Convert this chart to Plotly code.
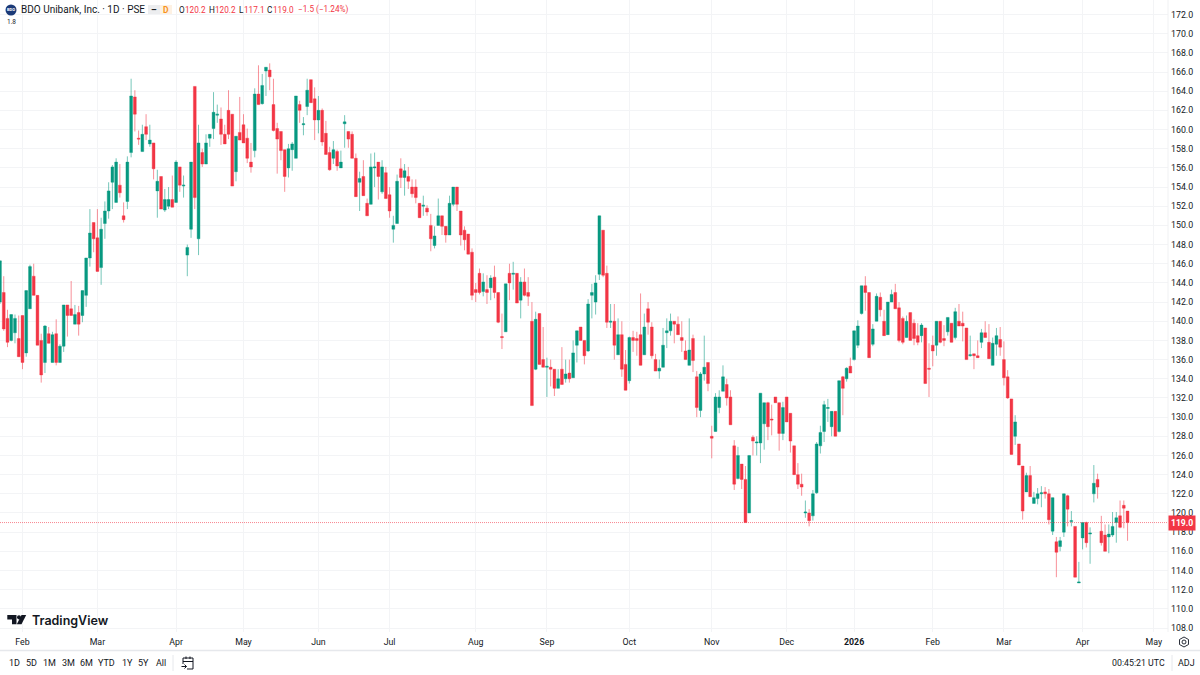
import re

import plotly.graph_objects as go

# daily bars, 10 per row
opens = [
    142.0,143.0,140.3,138.0,138.8,138.2,140.6,136.7,141.3,144.7,
    142.7,138.0,135.7,138.7,135.7,138.7,135.7,137.4,141.7,141.3,
    139.7,140.9,140.6,142.7,146.6,150.3,148.7,145.6,150.2,151.5,
    154.5,152.4,154.2,151.0,152.5,157.6,163.4,159.1,157.7,160.3,
    158.5,158.6,153.6,155.1,151.6,152.0,152.7,152.4,156.1,154.1,
    146.9,149.6,164.5,148.6,157.6,156.4,159.1,160.1,161.5,161.1,
    159.5,162.0,161.6,155.6,159.7,160.5,159.1,156.6,157.8,163.7,
    162.7,166.1,166.2,162.6,160.1,159.8,157.9,156.0,157.9,157.0,
    162.6,160.5,162.4,165.2,163.2,161.0,162.0,159.6,157.6,157.0,
    157.7,156.0,160.6,159.8,159.5,157.0,154.5,155.1,152.3,152.2,
    156.0,156.6,153.5,155.5,153.2,149.6,150.2,155.9,155.0,155.1,
    154.0,154.0,152.3,152.0,151.8,150.0,147.9,150.0,151.0,149.9,
    149.0,152.2,154.0,151.5,149.5,149.1,147.2,143.3,145.0,143.1,
    143.3,143.5,144.6,143.0,138.4,138.9,145.0,144.9,145.0,142.2,
    144.1,143.0,140.0,135.0,140.8,136.0,135.2,135.2,135.0,133.0,
    135.0,134.0,134.6,134.1,137.5,139.4,138.0,136.9,142.7,142.0,
    144.9,149.5,145.0,139.9,140.0,136.5,138.6,135.5,133.8,138.3,
    138.2,138.6,136.5,141.3,139.4,136.0,134.8,135.2,138.8,139.0,
    140.0,139.7,138.3,136.9,135.4,138.2,134.2,130.7,134.5,135.7,
    128.0,128.5,131.0,132.7,133.4,132.1,127.0,123.6,125.1,123.5,
    120.0,127.9,127.3,127.3,129.3,131.5,129.8,132.1,131.5,128.3,
    132.1,130.4,127.0,124.0,123.0,120.0,120.0,119.7,122.1,127.0,
    128.5,130.9,129.0,130.6,128.5,134.2,134.0,135.3,136.0,137.5,
    140.8,143.7,143.0,137.6,140.0,142.5,140.0,138.6,142.0,143.0,
    141.4,140.3,138.3,140.9,139.8,138.5,138.5,139.3,135.1,137.5,
    137.5,140.0,138.2,138.9,139.8,138.3,140.0,139.8,139.3,136.4,
    136.6,136.4,137.8,138.8,137.8,135.4,137.6,138.1,136.0,134.2,
    131.9,128.0,127.2,124.9,122.2,123.9,121.0,121.5,122.0,122.2,
    122.0,118.1,117.0,116.5,118.0,121.8,119.1,118.6,112.7,117.4,
    119.0,117.8,122.0,123.5,118.1,117.7,117.5,117.7,119.0,119.7,
    120.8,120.2,
]
highs = [
    146.3,144.7,141.2,140.7,140.7,140.6,140.6,143.2,145.9,146.0,
    142.7,138.7,139.6,139.4,138.9,140.2,137.6,141.7,141.7,144.2,
    141.7,141.6,143.2,146.6,151.7,150.3,151.7,150.8,152.5,154.5,
    156.3,157.0,156.4,152.4,157.2,165.3,164.1,159.9,160.5,161.6,
    160.5,158.6,155.8,155.1,153.8,154.0,155.2,156.8,156.1,155.2,
    148.0,156.6,164.5,160.5,158.0,159.5,159.5,163.9,162.6,162.3,
    160.5,164.1,161.6,159.3,163.4,161.6,160.1,158.6,164.3,166.7,
    165.8,166.5,166.9,165.3,160.7,159.8,157.9,158.5,158.7,163.5,
    163.0,161.3,165.3,165.2,164.4,163.5,162.2,160.9,158.2,158.8,
    157.9,157.8,161.5,159.8,159.8,157.5,155.6,156.8,152.8,157.5,
    157.6,156.6,156.8,156.1,154.0,151.0,155.3,157.0,156.4,156.1,
    154.8,154.8,152.3,153.1,152.1,151.2,149.9,152.8,151.0,149.9,
    153.1,154.0,154.0,151.5,149.9,149.1,147.6,144.0,145.5,145.0,
    144.8,144.8,145.8,143.0,140.8,143.9,146.0,146.2,145.0,144.6,
    145.5,144.6,142.0,141.0,140.8,139.4,136.2,136.0,135.0,135.0,
    137.3,136.0,136.0,138.0,139.0,139.4,138.0,142.3,143.9,144.8,
    151.0,149.5,145.8,141.8,141.8,140.3,140.0,137.0,138.4,139.0,
    138.9,142.9,140.8,142.0,139.9,136.6,136.0,139.3,140.3,140.8,
    140.0,140.5,140.0,138.0,140.3,138.6,134.8,134.7,138.5,135.7,
    129.1,132.5,132.8,135.4,134.0,132.8,127.6,126.9,125.1,124.9,
    126.0,128.1,128.0,132.5,131.5,131.6,131.3,132.1,131.5,131.6,
    132.1,130.4,127.0,125.2,124.1,121.3,120.4,122.4,127.4,129.1,
    131.7,131.9,130.6,130.6,133.8,134.3,135.2,136.2,139.0,140.1,
    143.7,144.7,143.0,139.7,142.9,143.0,141.2,142.0,143.3,143.9,
    142.0,140.5,140.6,140.9,140.2,139.8,139.8,139.3,137.7,138.5,
    140.0,140.0,139.6,140.4,139.8,141.4,141.8,141.0,139.3,138.5,
    136.6,138.0,139.2,140.0,139.7,138.3,139.3,139.4,137.9,134.9,
    131.9,130.2,127.2,124.9,124.2,124.9,122.2,122.6,122.8,122.7,
    122.5,121.6,117.5,117.5,122.0,121.9,120.2,118.6,114.9,119.0,
    119.1,118.5,125.0,124.1,119.7,118.8,118.8,120.1,120.1,121.3,
    121.3,120.2,
]
lows = [
    141.8,139.0,137.3,137.9,137.7,136.3,135.0,136.3,141.3,142.7,
    137.5,133.6,134.6,137.7,135.7,135.4,135.7,136.8,138.4,140.6,
    139.7,138.5,139.9,141.5,145.7,147.2,145.2,143.8,148.6,150.7,
    151.7,152.4,152.9,150.3,151.7,157.1,159.8,158.4,157.7,158.9,
    158.2,154.8,150.8,151.7,151.4,151.7,151.9,152.4,153.5,152.9,
    144.7,148.7,151.7,146.9,156.1,156.4,158.2,159.0,160.7,158.4,
    158.5,159.0,154.1,154.6,158.9,158.6,156.5,155.5,157.1,162.6,
    162.6,163.5,164.1,159.8,155.4,156.8,153.5,155.0,155.7,157.0,
    160.7,159.4,161.5,162.8,158.9,159.6,158.3,157.4,155.7,156.4,
    155.7,156.0,158.1,158.1,157.0,153.0,151.5,153.1,151.0,152.2,
    154.0,152.7,153.3,152.8,150.8,148.2,150.2,153.9,153.1,153.8,
    152.9,152.3,150.8,151.0,151.0,147.3,147.6,150.0,149.0,148.2,
    149.0,152.0,151.5,147.9,147.4,147.0,142.2,142.0,142.8,142.6,
    141.8,142.2,142.4,139.8,137.1,138.9,142.2,143.3,141.9,140.3,
    142.6,141.6,131.2,134.9,135.5,135.2,132.1,133.2,132.2,133.0,
    133.4,133.6,133.6,134.1,135.7,138.0,135.5,136.8,140.3,140.7,
    144.3,144.6,139.3,139.3,136.0,136.5,134.2,132.8,133.5,136.8,
    136.4,135.4,136.5,138.6,136.1,134.8,134.0,135.2,137.2,138.5,
    137.7,138.6,136.8,136.0,135.4,134.7,130.0,130.0,133.8,132.7,
    125.7,128.5,130.4,132.7,131.2,129.2,122.4,123.5,122.5,119.0,
    120.0,126.0,126.0,125.2,126.6,127.6,128.1,131.5,126.5,127.6,
    129.5,126.3,124.0,122.5,121.8,119.5,118.6,119.2,122.0,126.2,
    127.4,129.5,128.0,128.0,128.4,130.2,133.7,134.6,135.9,137.2,
    140.7,141.1,136.2,137.4,140.0,140.5,138.5,138.6,142.0,141.3,
    137.8,137.6,138.3,138.0,137.5,137.5,137.8,133.5,132.1,135.3,
    136.4,137.7,137.4,138.5,137.8,138.1,139.5,137.9,136.0,136.3,
    135.0,136.2,137.2,138.3,136.1,135.4,136.4,136.4,133.3,131.9,
    126.1,127.1,125.0,119.3,122.2,121.7,121.0,120.9,120.6,121.5,
    118.8,117.7,113.3,116.0,117.5,118.6,118.6,113.3,112.7,116.2,
    116.4,114.7,121.1,121.5,116.6,116.0,115.8,117.5,116.9,118.4,
    118.4,117.1,
]
closes = [
    146.3,139.2,137.8,140.7,140.3,136.3,135.7,143.2,145.7,142.7,
    137.5,134.4,139.5,137.7,138.6,135.7,137.4,141.7,140.6,140.6,
    140.7,139.7,143.2,146.6,149.2,148.6,145.2,149.6,151.5,153.6,
    156.1,156.6,153.4,150.6,156.6,163.5,161.6,159.0,159.5,159.5,
    158.9,155.9,154.6,151.7,152.7,152.7,151.9,156.6,154.2,154.2,
    147.7,156.6,152.9,158.6,156.4,158.6,159.5,161.8,161.6,159.5,
    158.5,159.5,154.1,159.3,158.9,158.6,157.0,156.1,163.7,162.6,
    164.6,166.5,165.5,159.9,159.0,157.8,155.1,158.0,158.5,163.5,
    162.0,160.6,164.1,162.8,161.0,162.0,158.7,157.4,155.8,157.9,
    156.2,156.6,160.8,159.0,157.0,153.0,154.9,153.1,151.0,156.1,
    156.1,155.1,156.1,152.8,151.5,150.0,154.6,155.0,155.7,154.6,
    153.3,152.9,150.8,152.1,151.4,148.6,148.9,151.0,149.9,149.0,
    152.3,154.0,152.2,149.0,148.5,147.0,142.7,143.0,143.0,144.1,
    143.0,144.5,143.0,139.9,138.3,143.9,144.0,145.0,141.9,144.1,
    142.7,142.6,131.2,140.2,135.5,135.2,135.3,135.0,133.0,134.0,
    133.4,134.5,134.0,136.7,139.0,138.0,136.4,141.8,143.0,144.0,
    151.0,144.8,139.9,140.0,137.5,138.6,135.0,132.8,138.3,138.0,
    138.0,135.4,139.4,139.9,136.4,134.8,135.1,137.5,139.0,140.0,
    139.7,138.6,138.0,136.0,137.0,135.9,131.0,134.5,135.2,133.5,
    127.8,132.1,132.1,134.2,132.0,129.2,123.0,126.0,123.5,119.0,
    126.0,127.5,127.4,132.5,131.5,129.0,129.7,131.5,128.3,131.0,
    129.5,127.5,124.0,123.0,122.7,120.1,119.2,122.0,127.2,128.4,
    131.3,131.0,130.6,128.0,133.8,133.0,135.1,134.6,139.0,139.5,
    143.7,143.0,136.2,139.2,142.6,141.2,138.5,142.0,142.8,141.3,
    138.0,137.8,140.0,138.0,138.2,137.8,139.6,133.5,135.0,136.9,
    140.0,137.8,138.0,140.4,137.8,141.0,139.5,139.5,136.0,136.5,
    136.4,136.2,138.8,138.3,136.1,137.7,138.5,137.3,134.1,132.0,
    126.1,129.5,125.0,120.2,123.9,121.7,121.6,122.0,122.1,122.0,
    119.3,121.6,115.9,117.1,122.0,120.4,119.2,113.3,112.8,119.0,
    116.9,117.9,123.1,122.7,116.9,116.0,117.8,118.6,119.5,118.5,
    120.5,119.0,
]

# session number where each month starts (the last one is past the data)
month_sessions = [6, 26, 47, 65, 85, 104, 127, 146, 168, 190, 210, 228, 249, 268, 289, 308]
month_labels = ["Feb", "Mar", "Apr", "May", "Jun", "Jul", "Aug", "Sep", "Oct", "Nov", "Dec",
                "<b>2026</b>", "Feb", "Mar", "Apr", "May"]
price_ticks = list(range(108, 174, 2))
range_buttons = ["1D", "5D", "1M", "3M", "6M", "YTD", "1Y", "5Y", "All"]

GREEN = "#089981"
RED = "#F23645"
TEXT = "#131722"
GRID = "#F3F4F6"
FONT = "Roboto"

WIDTH, HEIGHT = 1200, 675
PLOT_R, PLOT_B = 1168, 632
BAR_PX = 3.746
PX_PER_PRICE = 9.586

sessions = list(range(len(closes)))


def px(x):
    return x / PLOT_R


def py(y):
    return (PLOT_B - y) / PLOT_B


def path(spec):
    # "M 10 20 L 30 40 Z" in page pixels -> paper coords
    out = []
    nums = []
    for tok in re.findall(r"[MLZ]|[-\d.]+", spec):
        if tok in "MLZ":
            out.append(tok)
        else:
            nums.append(float(tok))
            if len(nums) == 2:
                out.append(f"{px(nums[0]):.5f},{py(nums[1]):.5f}")
                nums = []
    return " ".join(out)


def wick_trace(is_up, color):
    xs, ys = [], []
    for i in sessions:
        if (closes[i] >= opens[i]) == is_up:
            xs += [i, i, None]
            ys += [lows[i], highs[i], None]
    return go.Scatter(x=xs, y=ys, mode="lines", line=dict(color=color, width=1),
                      hoverinfo="skip", showlegend=False)


fig = go.Figure()

# wicks are paler than the bodies
fig.add_trace(wick_trace(True, "rgba(8,153,129,0.55)"))
fig.add_trace(wick_trace(False, "rgba(242,54,69,0.55)"))
fig.add_trace(
    go.Candlestick(
        x=sessions, open=opens, close=closes,
        high=[max(o, c) for o, c in zip(opens, closes)],
        low=[min(o, c) for o, c in zip(opens, closes)],
        increasing=dict(line=dict(color=GREEN, width=0.4), fillcolor=GREEN),
        decreasing=dict(line=dict(color=RED, width=0.4), fillcolor=RED),
        whiskerwidth=0, hoverinfo="skip", showlegend=False,
    )
)

last = closes[-1]
prev = closes[-2]
chg = last - prev

shapes = [
    # last price line
    dict(type="line", xref="paper", yref="y", x0=0, x1=1, y0=last, y1=last,
         line=dict(color="rgba(242,54,69,0.6)", width=1, dash="1px,1px")),
    # separators
    dict(type="line", xref="paper", yref="paper", x0=px(0), x1=px(WIDTH), y0=py(650.5), y1=py(650.5),
         line=dict(color="#E6E8EC", width=1.5)),
    dict(type="line", xref="paper", yref="paper", x0=px(1172), x1=px(1172), y0=py(655), y1=py(671),
         line=dict(color="#E6E8EC", width=1)),
    dict(type="line", xref="paper", yref="paper", x0=px(173), x1=px(173), y0=py(655), y1=py(671),
         line=dict(color="#E6E8EC", width=1)),
    dict(type="line", xref="paper", yref="paper", x0=1, x1=1, y0=0, y1=1,
         line=dict(color="#F0F1F3", width=1)),
    # legend pill
    dict(type="rect", xref="paper", yref="paper", x0=px(148), x1=px(160), y0=py(15), y1=py(5),
         fillcolor="#ECEDEF", line=dict(width=0), layer="below"),
    dict(type="rect", xref="paper", yref="paper", x0=px(160), x1=px(172), y0=py(15), y1=py(5),
         fillcolor="#FDF1E3", line=dict(width=0), layer="below"),
    # symbol logo
    dict(type="circle", xref="paper", yref="paper", x0=px(5.5), x1=px(16.5), y0=py(15.5), y1=py(4.5),
         fillcolor="#1B3A78", line=dict(width=0)),
    # TradingView mark
    dict(type="path", xref="paper", yref="paper", fillcolor=TEXT, line=dict(width=0),
         path=path("M 7.3 615 L 16.5 615 L 16.5 624.3 L 12 624.3 L 12 619.4 L 7.3 619.4 Z")),
    dict(type="path", xref="paper", yref="paper", fillcolor=TEXT, line=dict(width=0),
         path=path("M 21.5 615 L 26.2 615 L 21.5 624.3 L 16.8 624.3 Z")),
    dict(type="circle", xref="paper", yref="paper", fillcolor=TEXT, line=dict(width=0),
         x0=px(17), x1=px(21), y0=py(619.4), y1=py(615.2)),
    # settings icon
    dict(type="path", xref="paper", yref="paper", line=dict(color=TEXT, width=0.9),
         path=path("M 1184 637 L 1188.5 639.5 L 1188.5 644.5 L 1184 647 L 1179.5 644.5 L 1179.5 639.5 Z")),
    dict(type="circle", xref="paper", yref="paper", line=dict(color=TEXT, width=0.9),
         x0=px(1182), x1=px(1186), y0=py(644), y1=py(640)),
    # calendar icon
    dict(type="path", xref="paper", yref="paper", line=dict(color=TEXT, width=1),
         path=path("M 183 664 L 183 658 L 193 658 L 193 669 L 187 669 M 183 661.5 L 193 661.5 "
                   "M 186 656.5 L 186 659 M 190 656.5 L 190 659 M 181.5 666.5 L 186.5 666.5 "
                   "M 184.5 664.5 L 186.5 666.5 L 184.5 668.5")),
]


def label(x, y, text, size=9, color=TEXT, anchor="left", **kw):
    fig.add_annotation(
        x=px(x), y=py(y), xref="paper", yref="paper", text=text, showarrow=False,
        xanchor=anchor, yanchor="middle", borderpad=0,
        font=dict(family=kw.pop("family", FONT), size=size, color=color, **kw),
    )


# header
label(11, 10, "BDO", size=4, color="white", anchor="center", weight=700)
label(20, 10, "BDO Unibank, Inc. · 1D · PSE", size=10)
label(154, 10, "<b>–</b>", size=9, anchor="center")
label(165.5, 10, "D", size=8.5, color="#F7931A", anchor="center", weight=700)
label(177.5, 10, "O", size=8.2)
label(184, 10, f"{opens[-1]:.1f}", size=8.2, color=RED)
label(207.5, 10, "H", size=8.2)
label(214, 10, f"{highs[-1]:.1f}", size=8.2, color=RED)
label(237.5, 10, "L", size=8.2)
label(243, 10, f"{lows[-1]:.1f}", size=8.2, color=RED)
label(265.5, 10, "C", size=8.2)
label(272, 10, f"{last:.1f}", size=8.2, color=RED)
label(297, 10, f"−{abs(chg):.1f} (−{abs(chg) / prev * 100:.2f}%)", size=8.2, color=RED)
label(6, 22.5, "1.8", size=6.5)

# TradingView wordmark
label(30.5, 620, "TradingView", size=12.5, family="Inter", weight=600)

# last price tag
fig.add_annotation(
    x=px(1168), y=last, xref="paper", yref="y", text=f"<b>{last:.1f}</b>", showarrow=False,
    xanchor="left", yanchor="middle", bgcolor=RED, borderpad=2,
    font=dict(family=FONT, size=8.6, color="white"),
)

# bottom toolbar
for x, t in zip([14, 31, 49, 68, 86, 106, 127, 143, 161], range_buttons):
    label(x, 663, t, size=9, anchor="center")
label(1166, 663, "00:45:21 UTC", size=8.8, anchor="right")
label(1186, 663, "ADJ", size=9, anchor="center")

fig.update_layout(
    width=WIDTH, height=HEIGHT,
    margin=dict(l=0, r=WIDTH - PLOT_R, t=0, b=HEIGHT - PLOT_B, pad=0),
    paper_bgcolor="white", plot_bgcolor="white",
    font=dict(family=FONT, size=8.8, color=TEXT),
    shapes=shapes, showlegend=False,
    boxmode="overlay", boxgap=0, boxgroupgap=0.25,
    xaxis=dict(
        range=[0, PLOT_R / BAR_PX], rangeslider=dict(visible=False),
        tickmode="array", tickvals=month_sessions, ticktext=month_labels,
        showgrid=True, gridcolor=GRID, gridwidth=1, zeroline=False, showline=False,
        ticks="", tickfont=dict(size=8.8, color=TEXT), tickangle=0, ticklabelstandoff=3,
    ),
    yaxis=dict(
        side="right",
        range=[172 - (PLOT_B - 14.5) / PX_PER_PRICE, 172 + 14.5 / PX_PER_PRICE],
        tickmode="array", tickvals=price_ticks, ticktext=[f"{p:.1f}" for p in price_ticks],
        showgrid=True, gridcolor=GRID, gridwidth=1, zeroline=False, showline=False,
        ticks="", tickfont=dict(size=8.8, color=TEXT), ticklabelstandoff=2,
    ),
)

fig.write_html(
    "out.html",
    config=dict(displayModeBar=False),
    post_script="document.body.style.margin='0';document.body.style.overflow='hidden';",
)
